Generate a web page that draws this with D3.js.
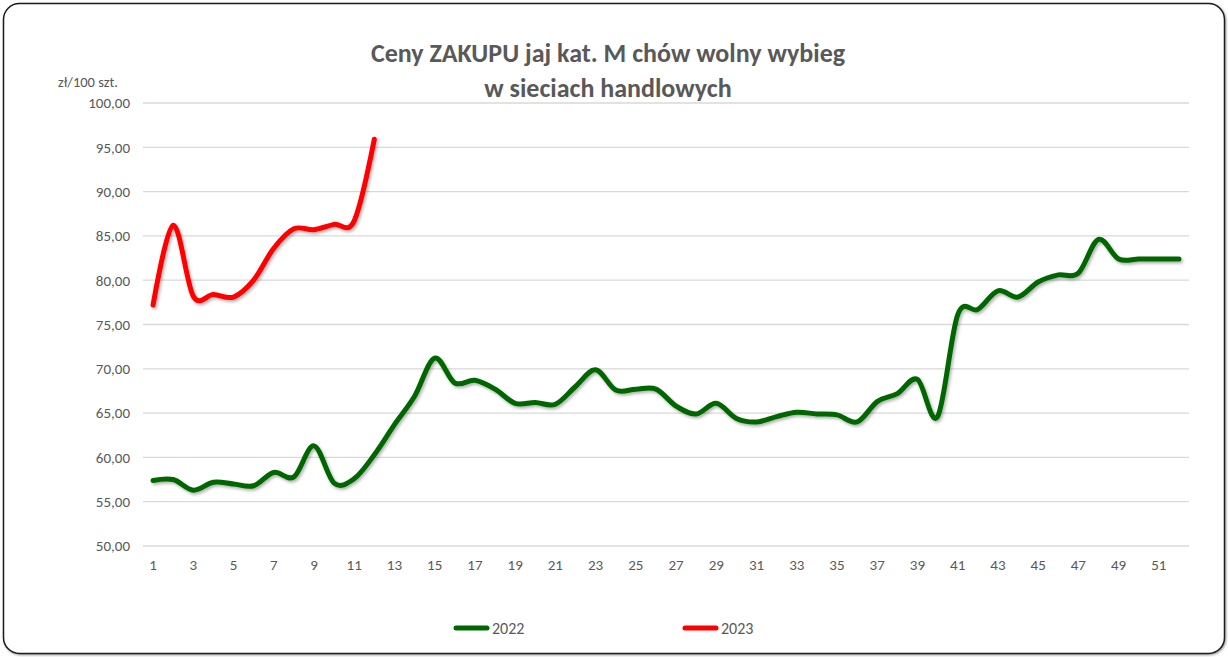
<!DOCTYPE html>
<html>
<head>
<meta charset="utf-8">
<script src="https://cdn.jsdelivr.net/npm/d3@7"></script>
<style>
  html, body { margin: 0; padding: 0; background: #fff; }
  svg { display: block; }
</style>
</head>
<body>
<svg id="chart" width="1228" height="657"></svg>
<script>
// ---- data ----
const weeks = d3.range(1, 53);
const xTickLabels = d3.range(1, 52, 2);
const yTickValues = [50, 55, 60, 65, 70, 75, 80, 85, 90, 95, 100];
const seriesNames = ["2022", "2023"];
const values2022 = [57.4, 57.5, 56.3, 57.2, 57.0, 56.8, 58.3, 57.8, 61.3, 57.1,
                    57.6, 60.3, 63.7, 66.9, 71.2, 68.4, 68.7, 67.7, 66.1, 66.2,
                    66.0, 68.0, 69.9, 67.6, 67.7, 67.7, 65.8, 64.9, 66.1, 64.4,
                    64.0, 64.6, 65.1, 64.9, 64.8, 64.0, 66.3, 67.2, 68.8, 64.6,
                    76.1, 76.7, 78.8, 78.1, 79.8, 80.6, 80.8, 84.6, 82.4, 82.4,
                    82.4, 82.4];
const values2023 = [77.2, 86.2, 78.2, 78.4, 78.1, 80.0, 83.6, 85.8, 85.7, 86.3, 86.7, 95.9];
const titleLines = ["Ceny ZAKUPU jaj kat. M chów wolny wybieg", "w sieciach handlowych"];
const unitLabel = "zł/100 szt.";
const colors = ["#006600", "#ff0000"];

// ---- layout ----
const svg = d3.select("#chart");
const plot = { left: 143, right: 1189, top: 103, bottom: 546 };
const font = "Calibri, Carlito, 'Open Sans', sans-serif";

const defs = svg.append("defs");
const f = defs.append("filter").attr("id", "shadow").attr("x", "-5%").attr("y", "-5%").attr("width", "110%").attr("height", "120%");
f.append("feDropShadow").attr("dx", 1.5).attr("dy", 2).attr("stdDeviation", 1.5).attr("flood-color", "#000").attr("flood-opacity", 0.3);
const fb = defs.append("filter").attr("id", "frameShadow").attr("x", "-2%").attr("y", "-2%").attr("width", "104%").attr("height", "104%");
fb.append("feDropShadow").attr("dx", 1).attr("dy", 1).attr("stdDeviation", 0.8).attr("flood-color", "#000").attr("flood-opacity", 0.4);

// frame
svg.append("rect")
  .attr("x", 3.5).attr("y", 3.5).attr("width", 1221).attr("height", 650)
  .attr("rx", 16).attr("ry", 16)
  .attr("fill", "#fff").attr("stroke", "#1a1a1a").attr("stroke-width", 1.5)
  .attr("filter", "url(#frameShadow)");

const x = d3.scaleBand().domain(weeks).range([plot.left, plot.right]).padding(0);
const y = d3.scaleLinear().domain([50, 100]).range([plot.bottom, plot.top]);
const cx = d => x(d) + x.bandwidth() / 2;

// gridlines
svg.append("g")
  .selectAll("line").data(yTickValues).join("line")
  .attr("x1", plot.left).attr("x2", plot.right)
  .attr("y1", d => y(d)).attr("y2", d => y(d))
  .attr("stroke", "#d9d9d9").attr("stroke-width", 1.3);

// y axis
const yAxis = d3.axisLeft(y).tickValues(yTickValues).tickSize(0).tickPadding(13)
  .tickFormat(d => d3.format(".2f")(d).replace(".", ","));
const gy = svg.append("g").attr("transform", `translate(${plot.left},0)`).call(yAxis);
gy.select(".domain").remove();
gy.selectAll("text").attr("fill", "#595959").style("font-family", font).style("font-size", "15px");

// x axis
const xAxis = d3.axisBottom(x).tickValues(xTickLabels).tickSize(0).tickPadding(13);
const gx = svg.append("g").attr("transform", `translate(0,${plot.bottom})`).call(xAxis);
gx.select(".domain").remove();
gx.selectAll("text").attr("fill", "#595959").style("font-family", font).style("font-size", "15px");

// unit label
svg.append("text").attr("x", 58).attr("y", 87)
  .attr("fill", "#595959").style("font-family", font).style("font-size", "14.5px")
  .text(unitLabel);

// title
const title = svg.append("text").attr("text-anchor", "middle")
  .attr("fill", "#595959").style("font-family", font).style("font-size", "26px").style("font-weight", "bold");
titleLines.forEach((t, i) => {
  title.append("tspan").attr("x", 608).attr("y", 62 + i * 35).text(t);
});

// lines
const line = d3.line()
  .x(d => cx(d.week)).y(d => y(d.value))
  .curve(d3.curveCardinal.tension(0));
const series = [values2022, values2023].map((vals, i) => ({
  name: seriesNames[i],
  color: colors[i],
  points: vals.map((v, j) => ({ week: weeks[j], value: v }))
}));
svg.append("g").selectAll("path").data(series).join("path")
  .attr("d", d => line(d.points))
  .attr("fill", "none")
  .attr("stroke", d => d.color)
  .attr("stroke-width", 5)
  .attr("stroke-linecap", "round")
  .attr("stroke-linejoin", "round")
  .attr("filter", "url(#shadow)");

// legend
const legendX = [454, 683];
const lg = svg.append("g").selectAll("g").data(series).join("g")
  .attr("transform", (d, i) => `translate(${legendX[i]},628)`);
lg.append("line").attr("x1", 2).attr("x2", 33).attr("y1", 0).attr("y2", 0)
  .attr("stroke", d => d.color).attr("stroke-width", 5).attr("stroke-linecap", "round");
lg.append("text").attr("x", 38).attr("y", 6)
  .attr("fill", "#595959").style("font-family", font).style("font-size", "16px")
  .text(d => d.name);
</script>
</body>
</html>
